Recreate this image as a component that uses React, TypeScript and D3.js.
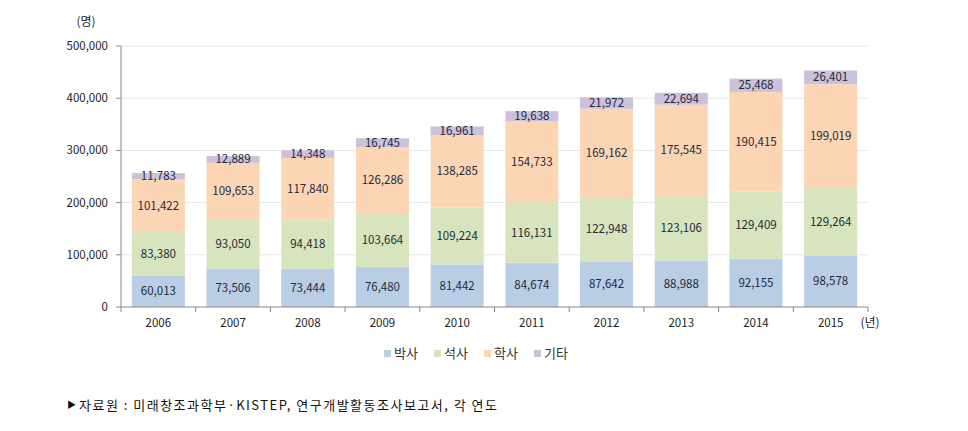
import React from "react";
import * as d3 from "d3";

const years = ["2006","2007","2008","2009","2010","2011","2012","2013","2014","2015"];
const phd = [60013,73506,73444,76480,81442,84674,87642,88988,92155,98578];
const master = [83380,93050,94418,103664,109224,116131,122948,123106,129409,129264];
const bachelor = [101422,109653,117840,126286,138285,154733,169162,175545,190415,199019];
const other = [11783,12889,14348,16745,16961,19638,21972,22694,25468,26401];
const seriesNames = ["박사","석사","학사","기타"];
const yTicks = [0,100000,200000,300000,400000,500000];
const colors = ["#b9cde5","#d7e4bd","#fcd5b5","#ccc1da"];

export default function App() {
  const W = 968, H = 431;
  const x0 = 121, x1 = 868, yTop = 46, yBot = 307;
  const x = d3.scaleBand().domain(years).range([x0, x1]).paddingInner(0.29).paddingOuter(0.145);
  const y = d3.scaleLinear().domain([0, 500000]).range([yBot, yTop]);
  const data = years.map((yr, i) => ({ year: yr, s0: phd[i], s1: master[i], s2: bachelor[i], s3: other[i] }));
  const stack = d3.stack<any>().keys(["s0","s1","s2","s3"])(data);
  const fmt = d3.format(",");
  const font = "'Malgun Gothic','Noto Sans CJK KR',sans-serif";
  const step = (x1 - x0) / years.length;
  const legendX = [384, 434, 484, 534];
  return (
    <svg width={W} height={H} style={{ position: "absolute", left: 0, top: 0, background: "#fff" }} fontFamily={font}>
      {yTicks.map(t => (
        <g key={t}>
          {t > 0 && <line x1={x0} x2={x1} y1={y(t)} y2={y(t)} stroke="#e6e6e6" strokeWidth={1} />}
          <line x1={x0 - 5} x2={x0} y1={y(t)} y2={y(t)} stroke="#888" />
          <text x={108} y={y(t)} dy="0.35em" textAnchor="end" fontSize={11.5} fill="#222">{fmt(t)}</text>
        </g>
      ))}
      {stack.map((layer, li) => (
        <g key={li}>
          {layer.map((d, i) => (
            <g key={i}>
              <rect x={x(years[i])} width={x.bandwidth()} y={y(d[1])} height={y(d[0]) - y(d[1])} fill={colors[li]} />
              <text x={(x(years[i]) as number) + x.bandwidth() / 2} y={(y(d[0]) + y(d[1])) / 2} dy="0.35em" textAnchor="middle" fontSize={11.5} fill="#1f2a3a">{fmt(d[1] - d[0])}</text>
            </g>
          ))}
        </g>
      ))}
      <line x1={x0} x2={x0} y1={yTop} y2={yBot} stroke="#888" />
      <line x1={x0} x2={x1} y1={yBot} y2={yBot} stroke="#888" />
      {d3.range(years.length + 1).map(i => (
        <line key={i} x1={x0 + i * step} x2={x0 + i * step} y1={yBot} y2={yBot + 5} stroke="#888" />
      ))}
      {years.map(yr => (
        <text key={yr} x={(x(yr) as number) + x.bandwidth() / 2} y={323} dy="0.35em" textAnchor="middle" fontSize={11.5} fill="#222">{yr}</text>
      ))}
      <text x={870} y={323} dy="0.35em" textAnchor="middle" fontSize={12} fill="#222">(년)</text>
      <text x={86} y={22} dy="0.35em" textAnchor="middle" fontSize={12} fill="#222">(명)</text>
      {seriesNames.map((n, i) => (
        <g key={n}>
          <rect x={legendX[i]} y={350} width={7} height={7} fill={colors[i]} />
          <text x={legendX[i] + 10} y={353.5} dy="0.35em" fontSize={13} fill="#333">{n}</text>
        </g>
      ))}
      <text x={67} y={405} dy="0.35em" fontSize={9} fill="#111">▶</text>
      <text x={79} y={405} dy="0.35em" fontSize={13} fill="#111" textLength={418} lengthAdjust="spacing">자료원 : 미래창조과학부·KISTEP, 연구개발활동조사보고서, 각 연도</text>
    </svg>
  );
}
